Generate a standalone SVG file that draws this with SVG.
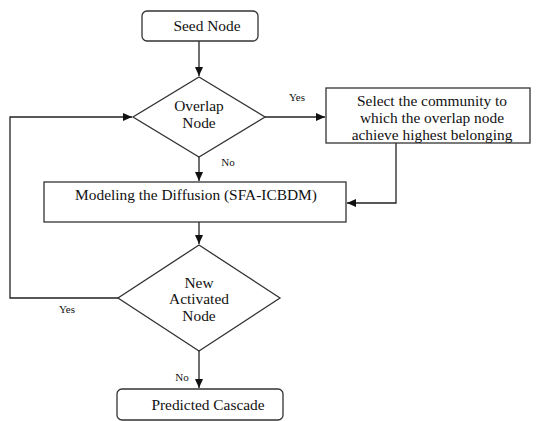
<svg xmlns="http://www.w3.org/2000/svg" width="536" height="421" viewBox="0 0 536 421">
<style>
.box{fill:#fff;stroke:#333;stroke-width:1.3}
.t{font-family:"Liberation Serif","Times New Roman",serif;font-size:15.4px;fill:#111;text-anchor:middle}
.s{font-family:"Liberation Serif","Times New Roman",serif;font-size:11px;fill:#111;text-anchor:middle}
.c{fill:none;stroke:#222;stroke-width:1.3}
</style>
<defs>
<marker id="ah" markerUnits="userSpaceOnUse" markerWidth="10" markerHeight="8" refX="9" refY="4" orient="auto">
<path d="M0,0 L9,4 L0,8 Z" fill="#111"/>
</marker>
</defs>
<rect width="536" height="421" fill="#fff"/>
<g id="connectors">
<line class="c" x1="199" y1="41" x2="199" y2="76" marker-end="url(#ah)"/>
<polyline class="c" points="118,298 10,298 10,117 132,117" marker-end="url(#ah)"/>
<line class="c" x1="265" y1="117" x2="325" y2="117" marker-end="url(#ah)"/>
<line class="c" x1="199" y1="157" x2="199" y2="181" marker-end="url(#ah)"/>
<polyline class="c" points="396,143 396,203 347,203" marker-end="url(#ah)"/>
<line class="c" x1="199" y1="222" x2="199" y2="244" marker-end="url(#ah)"/>
<line class="c" x1="199" y1="351" x2="199" y2="388" marker-end="url(#ah)"/>
<text class="s" x="297" y="101">Yes</text>
<text class="s" x="228" y="166">No</text>
<text class="s" x="67" y="313">Yes</text>
<text class="s" x="182" y="381">No</text>
</g>
<g id="seed">
<rect class="box" x="142" y="11" width="116" height="30" rx="5"/>
<text class="t" x="207" y="31">Seed Node</text>
</g>
<g id="overlap">
<polygon class="box" points="199,77 265,117 199,157 133,117"/>
<text class="t" x="199" y="111">Overlap</text>
<text class="t" x="199" y="128">Node</text>
</g>
<g id="select">
<rect class="box" x="326" y="88" width="204" height="55"/>
<text class="t" x="432" y="106">Select the community to</text>
<text class="t" x="432" y="123">which the overlap node</text>
<text class="t" x="432" y="140">achieve highest belonging</text>
</g>
<g id="modeling">
<rect class="box" x="44" y="182" width="302" height="40"/>
<text class="t" x="196" y="200">Modeling the Diffusion (SFA-ICBDM)</text>
</g>
<g id="newactivated">
<polygon class="box" points="199,245 280,298 199,351 118,298"/>
<text class="t" x="199" y="288">New</text>
<text class="t" x="199" y="304">Activated</text>
<text class="t" x="199" y="321">Node</text>
</g>
<g id="predicted">
<rect class="box" x="117" y="389" width="166" height="31" rx="5"/>
<text class="t" x="208" y="410">Predicted Cascade</text>
</g>
</svg>
